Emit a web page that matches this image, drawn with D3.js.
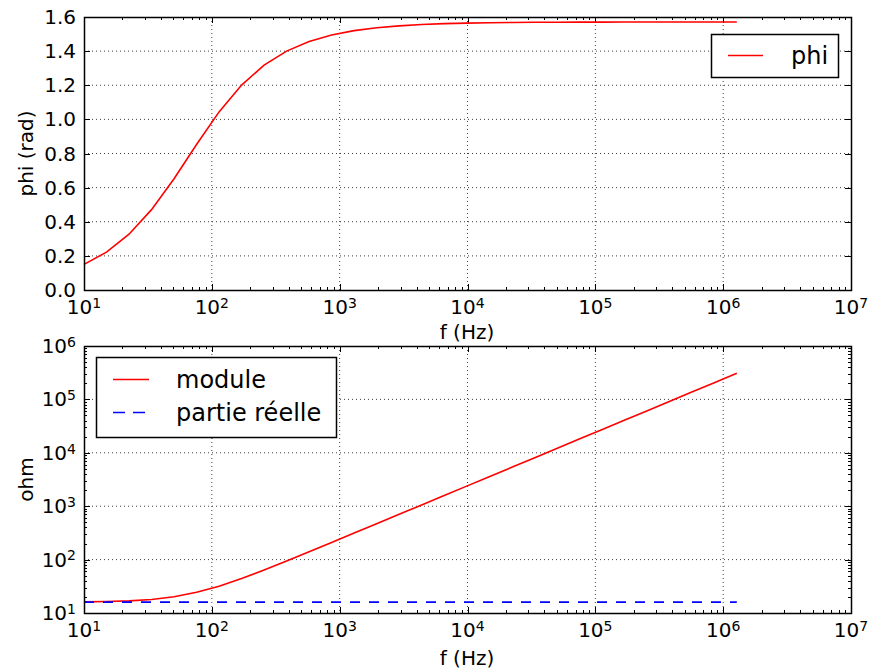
<!DOCTYPE html>
<html>
<head>
<meta charset="utf-8">
<script src="https://cdn.jsdelivr.net/npm/d3@7"></script>
<style>
  body { margin: 0; background: #fff; }
  svg { display: block; font-family: "DejaVu Sans", sans-serif; }
</style>
</head>
<body>
<svg id="chart" width="879" height="669"></svg>
<script>
  // frequencies (Hz)
  const freqs = [10, 15, 22.5, 33.75, 50.63, 75.94, 113.9, 170.9, 256.3, 384.4,
    576.7, 865, 1297.5, 1946, 2919, 4379, 6568, 9853, 14779, 22168,
    33253, 49879, 74818, 112227, 168341, 252511, 378767, 568151, 852226, 1278340]
  const phi = [0.150, 0.222, 0.327, 0.471, 0.652, 0.853, 1.044, 1.201, 1.318, 1.400,
    1.456, 1.494, 1.520, 1.537, 1.548, 1.556, 1.561, 1.564, 1.566, 1.568,
    1.569, 1.5695, 1.570, 1.5702, 1.5704, 1.5705, 1.5706, 1.5707, 1.5707, 1.5708]
  const moduleOhm = [16.18, 16.40, 16.89, 17.95, 20.12, 24.37, 31.82, 44.24, 63.88, 94.12,
    140.1, 209.3, 313.6, 470, 704, 1056, 1584, 2377, 3566, 5349,
    8023, 12035, 18053, 27079, 40618, 60926, 91389, 137083, 205624, 308432]
  const partieReelle = [16, 16, 16, 16, 16, 16, 16, 16, 16, 16,
    16, 16, 16, 16, 16, 16, 16, 16, 16, 16,
    16, 16, 16, 16, 16, 16, 16, 16, 16, 16]
  const xDecades = [1e1, 1e2, 1e3, 1e4, 1e5, 1e6, 1e7]
  const phiTicks = [0, 0.2, 0.4, 0.6, 0.8, 1.0, 1.2, 1.4, 1.6]
  const ohmDecades = [1e1, 1e2, 1e3, 1e4, 1e5, 1e6]

  const svg = d3.select('#chart')
  const left = 84
  const right = 851
  const fontSize = 20
  const legendSize = 24
  const lineW = 1.6
  const dash = '10,9'

  const minorTicks = (lo, hi) => {
    const out = []
    for (let d = lo; d < hi; d *= 10) {
      for (let k = 2; k <= 9; k++) out.push(d * k)
    }
    return out
  }

  const addPower = (sel, v) => {
    const e = Math.round(Math.log10(v))
    sel.text(null)
    sel.append('tspan').text('10')
    sel.append('tspan').attr('dy', '-0.45em').attr('font-size', '0.7em').text(e)
  }

  const drawFrame = (g, x, y, w, h, yTicks, yMinor, yIsLog) => {
    // grid
    const grid = g.append('g').attr('stroke', '#000').attr('stroke-width', 1)
      .attr('stroke-dasharray', '1,3').attr('opacity', 0.75)
    xDecades.slice(1, -1).forEach(v => {
      grid.append('line').attr('x1', x(v)).attr('x2', x(v)).attr('y1', 0).attr('y2', h)
    })
    yTicks.forEach(v => {
      if (y(v) <= 0.5 || y(v) >= h - 0.5) return
      grid.append('line').attr('x1', 0).attr('x2', w).attr('y1', y(v)).attr('y2', y(v))
    })

    const ticks = g.append('g').attr('stroke', '#000').attr('stroke-width', 1)
    xDecades.forEach(v => {
      const px = Math.round(x(v)) + 0.5
      ticks.append('line').attr('x1', px).attr('x2', px).attr('y1', h).attr('y2', h - 6)
      ticks.append('line').attr('x1', px).attr('x2', px).attr('y1', 0).attr('y2', 6)
    })
    minorTicks(1e1, 1e7).forEach(v => {
      const px = Math.round(x(v)) + 0.5
      ticks.append('line').attr('x1', px).attr('x2', px).attr('y1', h).attr('y2', h - 3)
      ticks.append('line').attr('x1', px).attr('x2', px).attr('y1', 0).attr('y2', 3)
    })
    yTicks.forEach(v => {
      const py = Math.round(y(v)) + 0.5
      ticks.append('line').attr('x1', 0).attr('x2', 6).attr('y1', py).attr('y2', py)
      ticks.append('line').attr('x1', w).attr('x2', w - 6).attr('y1', py).attr('y2', py)
    })
    yMinor.forEach(v => {
      const py = Math.round(y(v)) + 0.5
      ticks.append('line').attr('x1', 0).attr('x2', 3).attr('y1', py).attr('y2', py)
      ticks.append('line').attr('x1', w).attr('x2', w - 3).attr('y1', py).attr('y2', py)
    })

    // tick labels
    xDecades.forEach(v => {
      g.append('text').attr('x', x(v)).attr('y', h + 24).attr('text-anchor', 'middle')
        .attr('font-size', fontSize).call(addPower, v)
    })
    yTicks.forEach(v => {
      const t = g.append('text').attr('x', -8).attr('y', y(v) + 7).attr('text-anchor', 'end')
        .attr('font-size', fontSize)
      if (yIsLog) t.call(addPower, v)
      else t.text(v.toFixed(1))
    })
  }

  const drawBorder = (g, w, h) => {
    g.append('rect').attr('x', 0.5).attr('y', 0.5).attr('width', w).attr('height', h)
      .attr('fill', 'none').attr('stroke', '#000').attr('stroke-width', 1.5)
  }

  // ---- top panel: phi ----
  const top1 = 17, bot1 = 290
  const w = right - left
  const h1 = bot1 - top1
  const x1 = d3.scaleLog().domain([1e1, 1e7]).range([0, w])
  const y1 = d3.scaleLinear().domain([0, 1.6]).range([h1, 0])
  const g1 = svg.append('g').attr('transform', `translate(${left},${top1})`)
  drawFrame(g1, x1, y1, w, h1, phiTicks, [], false)
  g1.append('path')
    .datum(freqs.map((f, i) => [f, phi[i]]))
    .attr('fill', 'none').attr('stroke', '#ff0000').attr('stroke-width', lineW)
    .attr('d', d3.line().x(d => x1(d[0])).y(d => y1(d[1])))
  drawBorder(g1, w, h1)

  // legend phi
  const lg1 = g1.append('g').attr('transform', `translate(${711 - left},${34 - top1})`)
  lg1.append('rect').attr('x', 0.5).attr('y', 0.5).attr('width', 127).attr('height', 43)
    .attr('fill', '#fff').attr('stroke', '#000').attr('stroke-width', 1.5)
  lg1.append('line').attr('x1', 17).attr('x2', 52).attr('y1', 21.5).attr('y2', 21.5)
    .attr('stroke', '#ff0000').attr('stroke-width', lineW)
  lg1.append('text').attr('x', 80).attr('y', 30).attr('font-size', legendSize).text('phi')

  svg.append('text').attr('x', 467).attr('y', 339).attr('text-anchor', 'middle')
    .attr('font-size', fontSize).text('f (Hz)')
  svg.append('text').attr('transform', `translate(33,${(top1 + bot1) / 2}) rotate(-90)`)
    .attr('text-anchor', 'middle').attr('font-size', fontSize).text('phi (rad)')

  // ---- bottom panel: ohm ----
  const top2 = 346, bot2 = 613
  const h2 = bot2 - top2
  const x2 = d3.scaleLog().domain([1e1, 1e7]).range([0, w])
  const y2 = d3.scaleLog().domain([1e1, 1e6]).range([h2, 0])
  const g2 = svg.append('g').attr('transform', `translate(${left},${top2})`)
  drawFrame(g2, x2, y2, w, h2, ohmDecades, minorTicks(1e1, 1e6), true)
  g2.append('path')
    .datum(freqs.map((f, i) => [f, moduleOhm[i]]))
    .attr('fill', 'none').attr('stroke', '#ff0000').attr('stroke-width', lineW)
    .attr('d', d3.line().x(d => x2(d[0])).y(d => y2(d[1])))
  g2.append('path')
    .datum(freqs.map((f, i) => [f, partieReelle[i]]))
    .attr('fill', 'none').attr('stroke', '#0000ff').attr('stroke-width', lineW)
    .attr('stroke-dasharray', dash)
    .attr('d', d3.line().x(d => x2(d[0])).y(d => y2(d[1])))
  drawBorder(g2, w, h2)

  // legend ohm
  const lg2 = g2.append('g').attr('transform', `translate(${96 - left},${357 - top2})`)
  lg2.append('rect').attr('x', 0.5).attr('y', 0.5).attr('width', 240).attr('height', 80)
    .attr('fill', '#fff').attr('stroke', '#000').attr('stroke-width', 1.5)
  lg2.append('line').attr('x1', 17).attr('x2', 53).attr('y1', 22.5).attr('y2', 22.5)
    .attr('stroke', '#ff0000').attr('stroke-width', lineW)
  lg2.append('line').attr('x1', 17).attr('x2', 53).attr('y1', 55.5).attr('y2', 55.5)
    .attr('stroke', '#0000ff').attr('stroke-width', lineW).attr('stroke-dasharray', '12,8')
  lg2.append('text').attr('x', 80).attr('y', 31).attr('font-size', legendSize).text('module')
  lg2.append('text').attr('x', 80).attr('y', 64).attr('font-size', legendSize).text('partie réelle')

  svg.append('text').attr('x', 467).attr('y', 665).attr('text-anchor', 'middle')
    .attr('font-size', fontSize).text('f (Hz)')
  svg.append('text').attr('transform', `translate(33,${(top2 + bot2) / 2}) rotate(-90)`)
    .attr('text-anchor', 'middle').attr('font-size', fontSize).text('ohm')
</script>
</body>
</html>
